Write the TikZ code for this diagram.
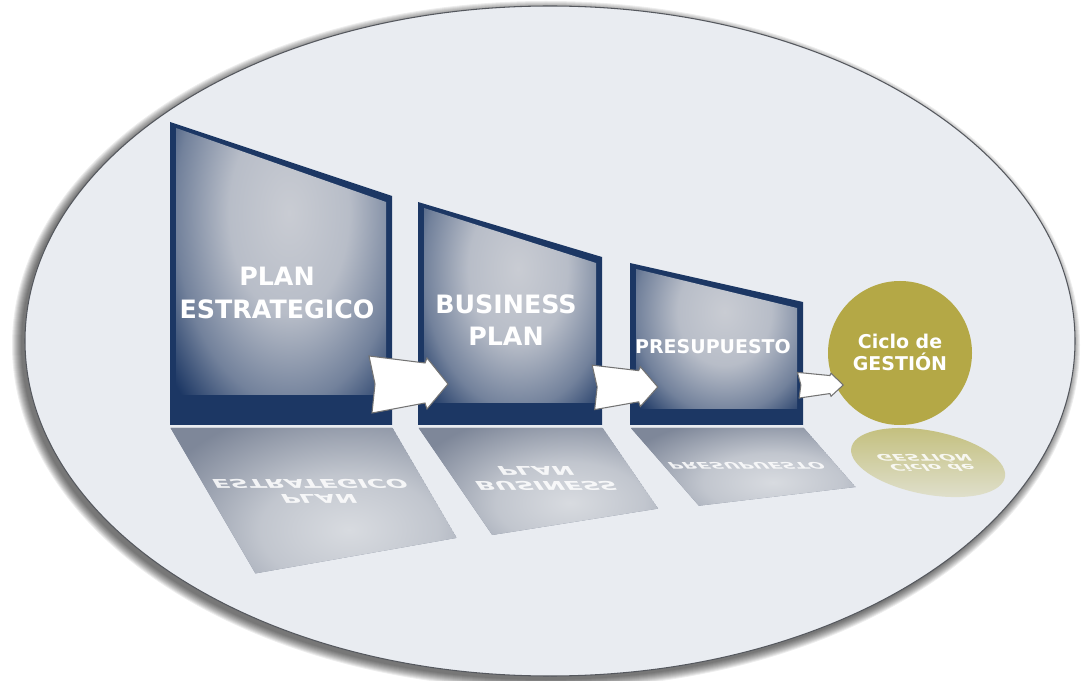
\documentclass[tikz,border=0pt]{standalone}
\usepackage{fontspec}
\setmainfont{DejaVu Sans}

\definecolor{platefill}{HTML}{E9ECF1}
\definecolor{platerim}{HTML}{55585E}
\definecolor{navy}{HTML}{1C3764}
\definecolor{navyglow}{HTML}{C9CCD3}
\definecolor{mirrorbase}{HTML}{7E8799}
\definecolor{mirrorglow}{HTML}{D8DBE0}
\definecolor{olive}{HTML}{B4A846}
\definecolor{mirrorolive}{HTML}{C4C07F}
\definecolor{mirrorfade}{HTML}{DFDFCB}

\pgfdeclareradialshading{panelshine}{\pgfpointorigin}{color(0bp)=(navyglow); color(9bp)=(navyglow!90!navy); color(17bp)=(navyglow!50!navy); color(23bp)=(navy); color(50bp)=(navy)}
\pgfdeclareradialshading{mirrorshine}{\pgfpointorigin}{color(0bp)=(mirrorglow); color(10bp)=(mirrorglow!75!mirrorbase); color(23bp)=(mirrorbase); color(50bp)=(mirrorbase)}

% box with dark frame and light glow inside
% #1 left, #2 right, #3 top left, #4 top right, #5 bottom, #6 bottom band
\newcommand{\glowbox}[6]{%
  \fill[navy] (#1,#5) -- (#1,#3) -- (#2,#4) -- (#2,#5) -- cycle;
  \begin{scope}
    \clip ({#1+6},{#5-#6}) -- ({#1+6},{#3+6}) -- ({#2-6},{#4+6}) -- ({#2-6},{#5-#6}) -- cycle;
    \shade[shading=panelshine] ({(#1+#2)/2+8},{#3+0.3*(#5-#3)}) ellipse ({0.75*(#2-#1)} and {0.92*(#5-#3)});
  \end{scope}}
% the same box seen on the floor, no frame
\newcommand{\mirrorbox}[5]{%
  \begin{scope}
    \clip (#1,#5) -- (#1,#3) -- (#2,#4) -- (#2,#5) -- cycle;
    \fill[mirrorbase] (#1,#5) -- (#1,#3) -- (#2,#4) -- (#2,#5) -- cycle;
    \shade[shading=mirrorshine] ({(#1+#2)/2+8},{#3+0.3*(#5-#3)}) ellipse ({0.8*(#2-#1)} and {0.95*(#5-#3)});
  \end{scope}}

\begin{document}
\begin{tikzpicture}
[x=0.1mm,y=-0.1mm,%
 bigtext/.style={text=white,font=\bfseries\fontsize{7.2}{9.2}\selectfont,align=center,inner sep=0pt},%
 smalltext/.style={text=white,font=\bfseries\fontsize{5.4}{6.3}\selectfont,align=center,inner sep=0pt},%
 mirrored/.style={transform shape,text opacity=0.85},%
 arrowrim/.style={draw=black!55,line width=0.3pt,fill=white},%
 flowarrow/.pic={\draw[arrowrim] (-1,-28) -- (55,-21) -- (57,-26) -- (78,0) -- (57,25) -- (55,19) -- (2,29) -- (5,0) -- cycle;}]
%% page and plate
\fill[white] (0,0) rectangle (1081,681);
\useasboundingbox (0,0) rectangle (1081,681);
\foreach \i in {0,...,9}
  \fill[black,opacity=0.07] (546,345) ellipse ({525+\i} and {335+\i});
\filldraw[fill=platefill,draw=platerim,line width=0.3pt] (550,341) ellipse (525 and 335);
%% reflections on the floor
\begin{scope}[shift={(0,427)},cm={1,0,0.28,-0.48,(0,0)},shift={(0,-427)}]
  \mirrorbox{170}{392}{122}{196}{425}
  \node[bigtext,mirrored] (planmirror) at (277,293) {PLAN\\ESTRATEGICO};
\end{scope}
\begin{scope}[shift={(0,427)},cm={1,0,0.33,-0.48,(0,0)},shift={(0,-427)}]
  \mirrorbox{418}{602}{202}{257}{425}
  \node[bigtext,mirrored] (businessmirror) at (506,320) {BUSINESS\\PLAN};
\end{scope}
\begin{scope}[shift={(0,427)},cm={1,0,0.42,-0.48,(0,0)},shift={(0,-427)}]
  \mirrorbox{630}{803}{263}{302}{425}
  \node[smalltext,mirrored] (presupuestomirror) at (713,347) {PRESUPUESTO};
\end{scope}
\begin{scope}[shift={(0,427)},cm={1,0,0.38,-0.48,(0,0)},shift={(0,-427)}]
  \shade[top color=mirrorolive,bottom color=mirrorfade] (900,353) circle (72);
  \node[smalltext,mirrored] (ciclomirror) at (900,352) {Ciclo de\\GESTIÓN};
\end{scope}
%% the three stages
\glowbox{170}{392}{122}{196}{425}{30}
\glowbox{418}{602}{202}{257}{425}{22}
\glowbox{630}{803}{263}{302}{425}{16}
\fill[olive] (900,353) circle (72);
\node[bigtext] (plan) at (277,293) {PLAN\\ESTRATEGICO};
\node[bigtext] (business) at (506,320) {BUSINESS\\PLAN};
\node[smalltext] (presupuesto) at (713,347) {PRESUPUESTO};
\node[smalltext] (ciclo) at (900,352) {Ciclo de\\GESTIÓN};
%% arrows between stages
\coordinate (a1) at (370,384);
\coordinate (a2) at (593,387);
\coordinate (a3) at (798,385);
\pic at (a1) {flowarrow};
\pic[xscale=0.83,yscale=0.78] at (a2) {flowarrow};
\pic[xscale=0.58,yscale=0.45] at (a3) {flowarrow};
\end{tikzpicture}
\end{document}
